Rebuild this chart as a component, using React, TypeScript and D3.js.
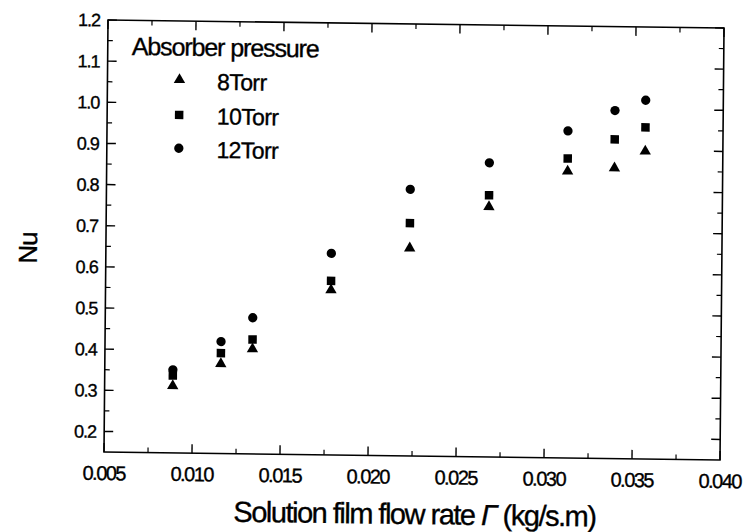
import React from "react";
import * as d3 from "d3";

// ---- data ----
const flowRate = [0.00887, 0.01159, 0.01338, 0.01781, 0.02226, 0.02674, 0.03119, 0.03385, 0.03559];
const nu8Torr = [0.313, 0.368, 0.405, 0.551, 0.655, 0.758, 0.847, 0.856, 0.898];
const nu10Torr = [0.338, 0.394, 0.428, 0.573, 0.716, 0.786, 0.878, 0.926, 0.956];
const nu12Torr = [0.352, 0.422, 0.481, 0.640, 0.798, 0.865, 0.945, 0.996, 1.022];

const seriesNames = ["8Torr", "10Torr", "12Torr"];
const seriesValues = [nu8Torr, nu10Torr, nu12Torr];
const seriesSymbols = [d3.symbolTriangle, d3.symbolSquare, d3.symbolCircle];
const symbolSizes = [56, 72, 68];

const xMajorTicks = [0.005, 0.01, 0.015, 0.02, 0.025, 0.03, 0.035, 0.04];
const xMinorTicks = [0.0075, 0.0125, 0.0175, 0.0225, 0.0275, 0.0325, 0.0375];
const yMajorTicks = [0.2, 0.3, 0.4, 0.5, 0.6, 0.7, 0.8, 0.9, 1.0, 1.1, 1.2];
const yMinorTicks = [0.25, 0.35, 0.45, 0.55, 0.65, 0.75, 0.85, 0.95, 1.05, 1.15];

const legendTitle = "Absorber pressure";
const xTitle = "Solution film flow rate ";
const xTitleUnit = " (kg/s.m)";
const yTitle = "Nu";

export default function App() {
  const W = 745, H = 532;
  const left = 104, right = 720, top = 20, bottom = 452;
  const x = d3.scaleLinear().domain([0.005, 0.04]).range([left, right]);
  const y = d3.scaleLinear().domain([0.15, 1.2]).range([bottom, top]);
  const fmtX = d3.format(".3f");
  const fmtY = d3.format(".1f");
  const font = "'Liberation Sans', Arial, sans-serif";
  const sym = (i: number) => d3.symbol().type(seriesSymbols[i]).size(symbolSizes[i])() as string;
  const major = 9, minor = 5;
  const axisStroke = 1.6;
  const txt = { fill: "#000", stroke: "#000", strokeWidth: 0.35 };

  return (
    <svg width={W} height={H} style={{ position: "absolute", left: 0, top: 0, background: "#fff" }}
      fontFamily={font}>
      <rect x={0} y={0} width={W} height={H} fill="#fff" />
      <g transform="matrix(1,0.013,-0.0093,1,4.2,-1.35)">
        {/* frame */}
        <rect x={left} y={top} width={right - left} height={bottom - top} fill="none" stroke="#000" strokeWidth={axisStroke} />
        {/* x ticks bottom & top */}
        {xMajorTicks.map((t) => (
          <g key={"xm" + t}>
            <line x1={x(t)} x2={x(t)} y1={bottom} y2={bottom - major} stroke="#000" strokeWidth={1.4} />
            <line x1={x(t)} x2={x(t)} y1={top} y2={top + major} stroke="#000" strokeWidth={1.4} />
            <text x={x(t)} y={480} textAnchor="middle" fontSize={20} letterSpacing={-1.5} {...txt}>{fmtX(t)}</text>
          </g>
        ))}
        {xMinorTicks.map((t) => (
          <g key={"xn" + t}>
            <line x1={x(t)} x2={x(t)} y1={bottom} y2={bottom - minor} stroke="#000" strokeWidth={1.2} />
            <line x1={x(t)} x2={x(t)} y1={top} y2={top + minor} stroke="#000" strokeWidth={1.2} />
          </g>
        ))}
        {/* y ticks left & right */}
        {yMajorTicks.map((t) => (
          <g key={"ym" + t}>
            <line x1={left} x2={left + major} y1={y(t)} y2={y(t)} stroke="#000" strokeWidth={1.4} />
            <line x1={right} x2={right - major} y1={y(t)} y2={y(t)} stroke="#000" strokeWidth={1.4} />
            <text x={96} y={y(t)} dy="0.36em" textAnchor="end" fontSize={18} letterSpacing={-1} {...txt}>{fmtY(t)}</text>
          </g>
        ))}
        {yMinorTicks.map((t) => (
          <g key={"yn" + t}>
            <line x1={left} x2={left + minor} y1={y(t)} y2={y(t)} stroke="#000" strokeWidth={1.2} />
            <line x1={right} x2={right - minor} y1={y(t)} y2={y(t)} stroke="#000" strokeWidth={1.2} />
          </g>
        ))}
        {/* data */}
        {seriesValues.map((vals, si) => (
          <g key={"s" + si}>
            {vals.map((v, i) => (
              <path key={i} d={sym(si)} transform={`translate(${x(flowRate[i])},${y(v)})`} fill="#000" />
            ))}
          </g>
        ))}
        {/* legend */}
        <text x={128} y={54.6} fontSize={25} letterSpacing={-1.1} {...txt}>{legendTitle}</text>
        {seriesNames.map((n, i) => (
          <g key={"l" + n}>
            <path d={sym(i)} transform={`translate(176,${[78.8, 114, 147.3][i]})`} fill="#000" />
            <text x={213.7} y={[88.5, 123, 156.5][i]} fontSize={23} letterSpacing={-0.6} {...txt}>{n}</text>
          </g>
        ))}
        {/* axis titles */}
        <text x={415} y={520} textAnchor="middle" fontSize={29} letterSpacing={-1.5} {...txt}>
          {xTitle}<tspan fontStyle="italic">Γ</tspan>{xTitleUnit}
        </text>
        <text transform="translate(35,249) rotate(-90)" textAnchor="middle" fontSize={26} letterSpacing={-1} {...txt}>{yTitle}</text>
      </g>
    </svg>
  );
}
